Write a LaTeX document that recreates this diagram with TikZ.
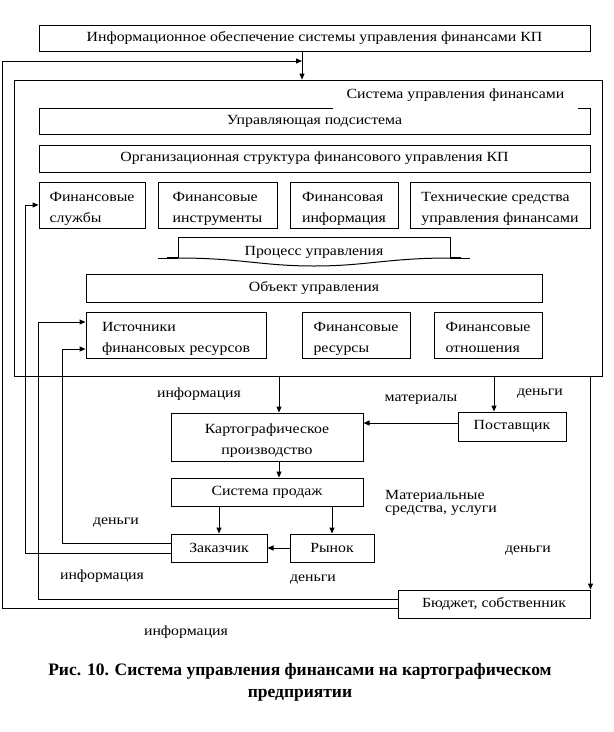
\documentclass[tikz,border=0pt]{standalone}
\usepackage{fontspec}
\setmainfont{Liberation Serif}
\newfontfamily\dfam[FakeStretch=1.13]{Liberation Serif}
\newcommand{\dfont}{\dfam\fontsize{14}{21}\selectfont}
\newcommand{\cfont}{\rmfamily\bfseries\fontsize{17.5}{22}\selectfont}
\newcommand{\tp}{\rule{0pt}{19pt}}
\newcommand{\bp}{\rule[-5pt]{0pt}{5pt}}
\usetikzlibrary{arrows.meta}
\tikzset{
  box/.style={draw, line width=1pt, inner sep=0pt, font=\dfont, align=left},
  lbl/.style={inner sep=0pt, font=\dfont, align=left},
  ln/.style={line width=1pt},
  arr/.style={line width=1pt, -{Triangle[length=6pt,width=5pt]}},
}
\begin{document}
\begin{tikzpicture}[x=1pt,y=-1pt]
\useasboundingbox (0,0) rectangle (614,732);
\fill[white] (0,0) rectangle (614,732);

% top box
\node[box, minimum width=551pt, minimum height=26pt] (info) at (314.5,38) {Информационное обеспечение системы управления финансами КП};

% big system box
\node[draw, line width=1pt, minimum width=588pt, minimum height=296pt, inner sep=0pt] (big) at (308,228) {};

\node[box, minimum width=551pt, minimum height=26pt] (ctrl) at (314.5,121) {Управляющая подсистема};
\node[lbl, fill=white, minimum width=245pt, minimum height=28pt, align=center] (systitle) at (455.5,95) {Система управления финансами};

\node[box, minimum width=551pt, minimum height=27pt] (org) at (314.5,158.5) {Организационная структура финансового управления КП};

\node[box, minimum width=106pt, minimum height=46pt] (fs) at (92,205) {\tp Финансовые\\службы\bp};
\node[box, minimum width=119pt, minimum height=46pt] (fi) at (217.5,205) {\tp Финансовые\\инструменты\bp};
\node[box, minimum width=108pt, minimum height=46pt] (finf) at (344,205) {\tp Финансовая\\информация\bp};
\node[box, minimum width=180pt, minimum height=46pt] (tech) at (500,205) {\tp Технические средства\\управления финансами\bp};

% process ribbon
\begin{scope}
\clip (178,237) rectangle (450,257.5);
\node[lbl] (proc) at (314,252.5) {Процесс управления};
\end{scope}
\fill[white] (178,258.5) .. controls (240,258.5) and (262,266) .. (314,266) .. controls (366,266) and (388,258.5) .. (450,258.5) -- (450,271) -- (178,271) -- cycle;
\draw[ln] (178,258) -- (178,237) -- (450,237) -- (450,258);
\draw[ln] (178,258) .. controls (240,258) and (262,266) .. (314,266) .. controls (366,266) and (388,258) .. (450,258);
\draw[ln] (158,258) -- (178,258);
\draw[ln] (450,258) -- (470,258);
\draw[line width=2pt] (167,258.3) -- (178,258.3);
\draw[line width=2pt] (450,258.3) -- (461,258.3);

\node[box, minimum width=456pt, minimum height=28pt] (obj) at (314,288) {Объект управления};

\node[box, minimum width=180pt, minimum height=46pt] (src) at (176,335) {\tp Источники\\финансовых ресурсов\bp};
\node[box, minimum width=108pt, minimum height=46pt] (fres) at (356,335) {\tp Финансовые\\ресурсы\bp};
\node[box, minimum width=108pt, minimum height=46pt] (frel) at (488,335) {\tp Финансовые\\отношения\bp};

% lower part
\node[box, minimum width=192pt, minimum height=48pt, align=center] (kart) at (267,437) {\tp Картографическое\\производство\bp};
\node[box, minimum width=108pt, minimum height=29pt] (supp) at (512,426.5) {Поставщик};
\node[box, minimum width=192pt, minimum height=28pt] (sales) at (267,492) {Система продаж};
\node[box, minimum width=96pt, minimum height=28pt] (cust) at (219,548) {Заказчик};
\node[box, minimum width=84pt, minimum height=28pt] (market) at (332,548) {Рынок};
\node[box, minimum width=192pt, minimum height=28pt] (budget) at (494,604) {Бюджет, собственник};

\coordinate (ax) at (279,0);
\coordinate (sx) at (494,0);
\coordinate (fbT) at (302,61);

% connectors
\draw[arr] (info.south -| fbT) -- (big.north -| fbT);
\draw[arr] ([yshift=-4pt]budget.west) -- ++(-395,0) |- (fbT);
\draw[arr] ([yshift=5pt]budget.west) -- ++(-359,0) |- ([yshift=13pt]src.west);
\draw[arr] ([yshift=5pt]cust.west) -- ++(-108,0) |- ([yshift=-14pt]src.west);
\draw[arr] ([yshift=-5pt]cust.west) -- ++(-145,0) |- (fs.west);
\draw[arr] (big.south -| ax) -- (kart.north -| ax);
\draw[arr] (big.south -| sx) -- (supp.north -| sx);
\draw[arr] ([yshift=3.5pt]supp.west) -- ([yshift=3.5pt]supp.west -| kart.east);
\draw[arr] (kart.south -| ax) -- (sales.north -| ax);
\draw[arr] (sales.south -| cust.north) -- (cust.north);
\draw[arr] (sales.south -| market.north) -- (market.north);
\draw[arr] (market.west) -- (cust.east);
\draw[arr] (big.south -| budget.east) -- (budget.north east);

% labels
\node[lbl] (l1) at (199,394) {информация};
\node[lbl] (l2) at (421,400) {материалы};
\node[lbl] (l3) at (540,394) {деньги};
\node[lbl, anchor=west, font=\dfam\fontsize{14}{13.5}\selectfont] (l4) at (385,503) {Материальные\\средства, услуги};
\node[lbl] (l5) at (116,523) {деньги};
\node[lbl] (l6) at (102,576) {информация};
\node[lbl] (l7) at (313,580) {деньги};
\node[lbl] (l8) at (528,551) {деньги};
\node[lbl] (l9) at (186,632) {информация};

% caption
\node[inner sep=0pt, font=\cfont, align=center] (cap) at (300,682) {Рис. 10. Система управления финансами на картографическом\\предприятии};
\end{tikzpicture}
\end{document}
